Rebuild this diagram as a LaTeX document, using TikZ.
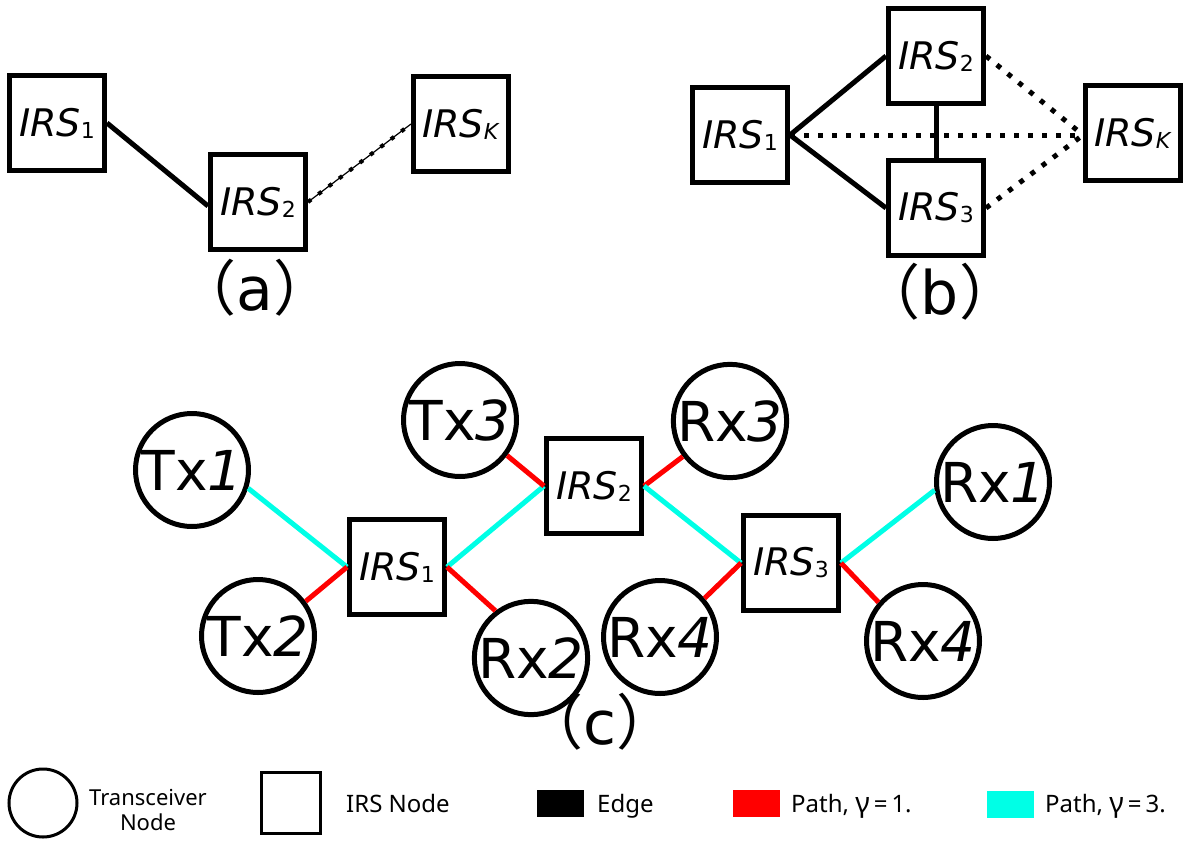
\documentclass[tikz,border=0pt]{standalone}
\usepackage{fontspec}
\setmainfont{DejaVu Sans}
\newfontfamily\cjkparen{Noto Sans CJK SC}
\newfontfamily\legendfont{Noto Sans}
\definecolor{pathred}{RGB}{255,0,0}
\definecolor{pathcyan}{RGB}{0,255,230}

% IRS label: italic name with a small upright index
\newcommand\irslabel[1]{\textit{IRS}\raisebox{-2pt}{\fontsize{22}{22}\selectfont #1}}
% transceiver label: upright name, italic number
\newcommand\trxlabel[2]{#1\textit{#2}}
% panel caption with full-width parentheses
\newcommand\panelcap[1]{{\cjkparen （}#1{\cjkparen ）}}
% gamma of the legend, set a little larger than the words round it
\newcommand\leggamma{{\fontsize{28}{28}\selectfont γ}}

\tikzset{
  irsbox/.style={draw, line width=5pt, minimum width=95pt, minimum height=95pt,
    inner sep=0pt, font=\fontsize{38}{40}\selectfont},
  trxnode/.style={draw, circle, line width=5pt, minimum size=113pt, inner sep=0pt,
    font=\fontsize{55}{60}\selectfont},
  linkline/.style={line width=5pt},
  dotlink/.style={line width=5pt, dash pattern=on 5pt off 9pt},
  redpath/.style={line width=5pt, draw=pathred},
  cyanpath/.style={line width=5pt, draw=pathcyan},
  caption/.style={font=\fontsize{60}{62}\selectfont, inner sep=0pt},
  legtext/.style={font=\legendfont\fontsize{24}{26}\selectfont, inner sep=0pt},
  legswatch/.style={minimum width=47pt, minimum height=27pt, inner sep=0pt},
}

\begin{document}
\begin{tikzpicture}[x=1pt, y=-1pt]
\useasboundingbox (0,0) rectangle (1189,841);

% ---------- (a) chain of IRSs ----------
\node[irsbox] (irs1a) at (57,123) {\irslabel{1}};
\node[irsbox] (irs2a) at (258,202) {\irslabel{2}};
\node[irsbox] (irsKa) at (461,124) {\irslabel{\textit{K}}};
\draw[linkline] (irs1a.east) -- ([yshift=-4pt]irs2a.west);
\draw[line width=1.2pt] (irs2a.east) -- (irsKa.west);
\draw[line width=4pt, dash pattern=on 4pt off 9pt] (irs2a.east) -- (irsKa.west);
\node[caption] (capa) at (255,288) {\panelcap{a}};

% ---------- (b) meshed IRSs ----------
\node[irsbox] (irs1b) at (740,135) {\irslabel{1}};
\node[irsbox] (irs2b) at (936,56) {\irslabel{2}};
\node[irsbox] (irs3b) at (936,208) {\irslabel{3}};
\node[irsbox] (irsKb) at (1133,133) {\irslabel{\textit{K}}};
\draw[linkline] (irs1b.east) -- (irs2b.west);
\draw[linkline] (irs1b.east) -- (irs3b.west);
\draw[linkline] (irs2b.south) -- (irs3b.north);
\draw[dotlink] (irs1b.east) -- (irs1b.east -| irsKb.west);
\draw[dotlink] (irs2b.east) -- (irs1b.east -| irsKb.west);
\draw[dotlink] (irs3b.east) -- (irs1b.east -| irsKb.west);
\node[caption] (capb) at (940,292) {\panelcap{b}};

% ---------- (c) transceivers routed over IRSs ----------
\node[irsbox] (irs1c) at (397,567) {\irslabel{1}};
\node[irsbox] (irs2c) at (594,486) {\irslabel{2}};
\node[irsbox] (irs3c) at (791,563) {\irslabel{3}};
\node[trxnode] (tx1) at (192,470) {\trxlabel{Tx}{1}};
\node[trxnode] (tx2) at (258,636) {\trxlabel{Tx}{2}};
\node[trxnode] (tx3) at (460,420) {\trxlabel{Tx}{3}};
\node[trxnode] (rx3) at (730,421) {\trxlabel{Rx}{3}};
\node[trxnode] (rx2) at (531,658) {\trxlabel{Rx}{2}};
\node[trxnode] (rx4a) at (660,637) {\trxlabel{Rx}{4}};
\node[trxnode] (rx1) at (993,482) {\trxlabel{Rx}{1}};
\node[trxnode] (rx4b) at (923,641) {\trxlabel{Rx}{4}};

% all links leave the boxes at the same slant, meeting the circles off-centre
\draw[cyanpath] (irs1c.west) -- (tx1.-18);
\draw[redpath]  (irs1c.west) -- (tx2.36);
\draw[cyanpath] (irs1c.east) -- (irs2c.west);
\draw[redpath]  (irs1c.east) -- (rx2.127);
\draw[redpath]  (irs2c.west) -- (tx3.-37);
\draw[redpath]  (irs2c.east) -- (rx3.-143);
\draw[cyanpath] (irs2c.east) -- (irs3c.west);
\draw[redpath]  (irs3c.west) -- (rx4a.41);
\draw[cyanpath] (irs3c.east) -- (rx1.-172);
\draw[redpath]  (irs3c.east) -- (rx4b.139);
\node[caption] (capc) at (600,722) {\panelcap{c}};

% ---------- legend ----------
\node[draw, circle, line width=3pt, minimum size=68pt, inner sep=0pt] (legcirc) at (43,803) {};
\node[legtext, align=center, font=\legendfont\fontsize{22}{25}\selectfont] (legcirctext) at (148,810) {Transceiver\\Node};
\node[draw, line width=3pt, minimum width=59pt, minimum height=61pt, inner sep=0pt] (legsq) at (291,803) {};
\node[legtext, anchor=base west] (legsqtext) at (346,812) {IRS Node};
\node[legswatch, fill=black] (legedge) at (560,803.5) {};
\node[legtext, anchor=base west] (legedgetext) at (597,812) {Edge};
\node[legswatch, fill=pathred] (legred) at (756.5,803.5) {};
\node[legtext, anchor=base west] (legredtext) at (791,812) {Path, \leggamma\,=\,1.};
\node[legswatch, fill=pathcyan] (legcyan) at (1010.5,804) {};
\node[legtext, anchor=base west] (legcyantext) at (1045,812) {Path, \leggamma\,=\,3.};
\end{tikzpicture}
\end{document}
